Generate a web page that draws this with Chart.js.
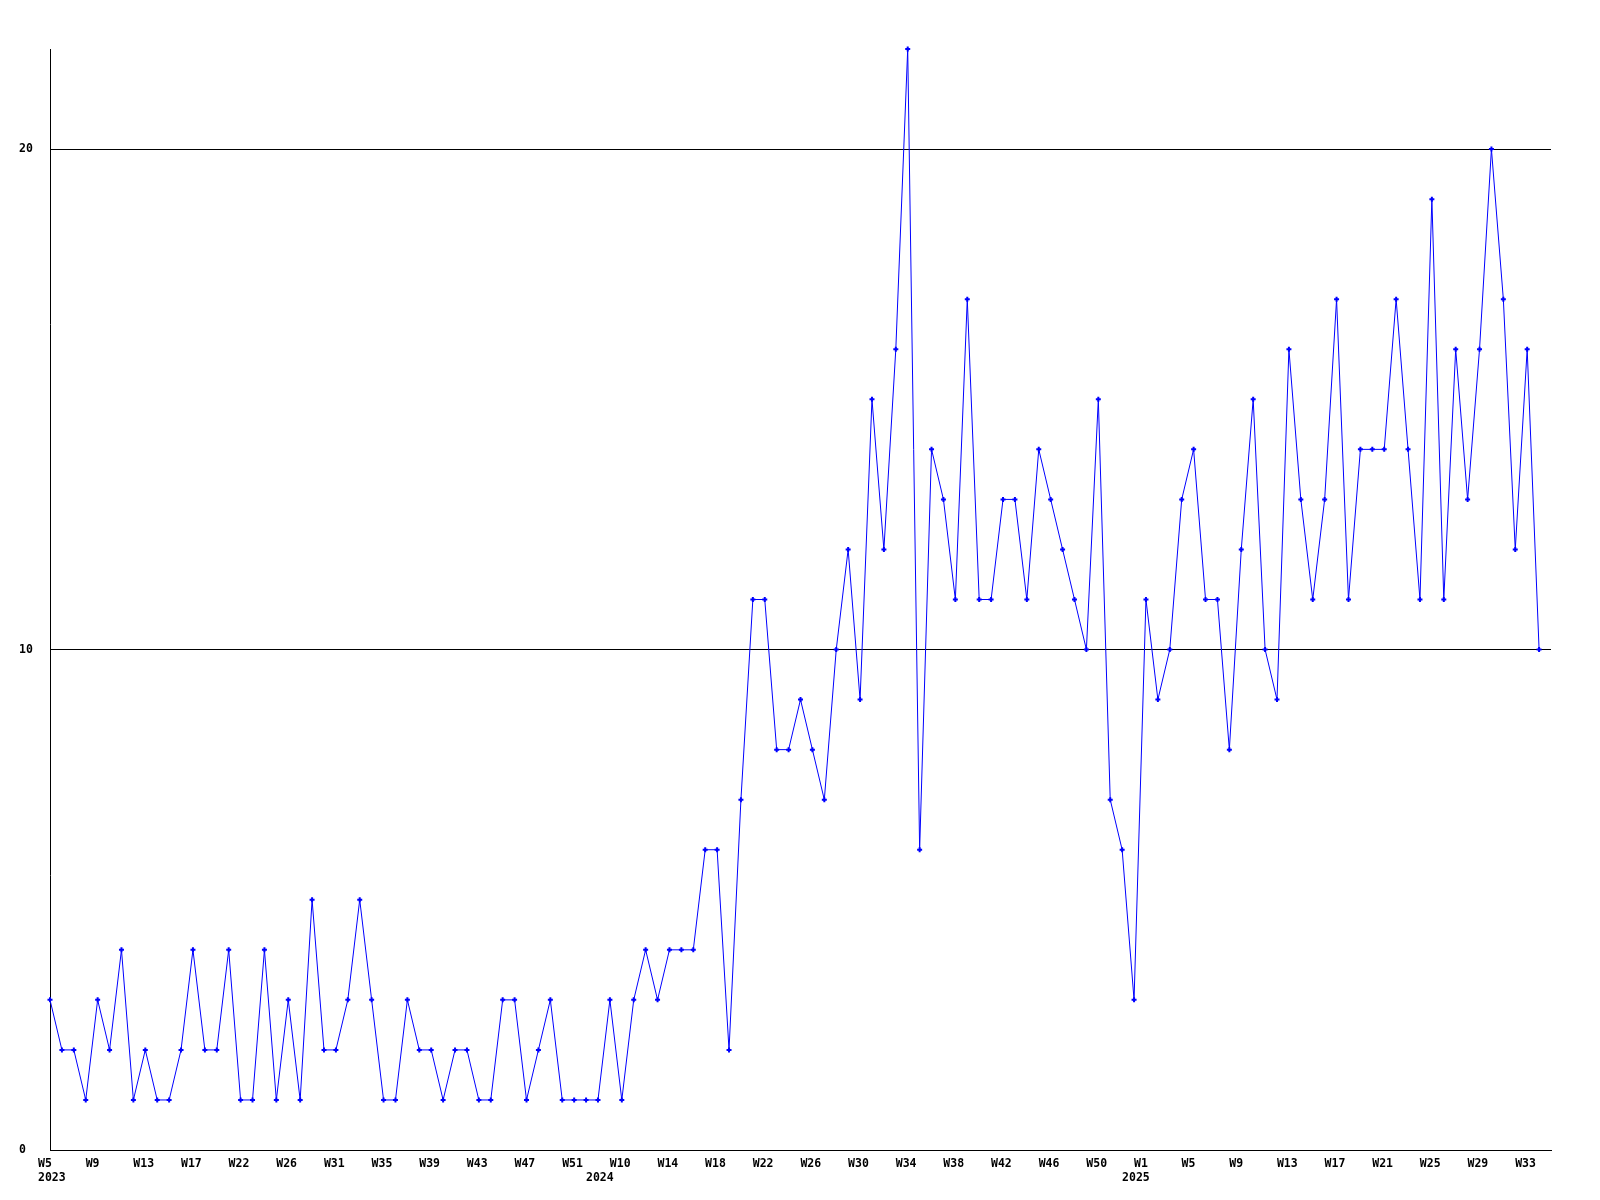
<!DOCTYPE html>
<html>
<head>
<meta charset="utf-8">
<script src="https://cdn.jsdelivr.net/npm/chart.js@4"></script>
<style>
  html, body { margin: 0; padding: 0; background: #fff; }
  #wrap { width: 1600px; height: 1200px; }
</style>
</head>
<body>
<div id="wrap"><canvas id="weeklyChart"></canvas></div>
<script>
// week labels per year (some weeks are missing in the data)
const weeks2023 = ['W5','W6','W7','W8','W9','W10','W11','W12','W13','W14','W15','W16','W17','W18','W19','W21',
    'W22','W23','W24','W25','W26','W27','W28','W30','W31','W32','W33','W34','W35','W36','W37','W38','W39','W40',
    'W41','W42','W43','W44','W45','W46','W47','W48','W49','W50','W51','W52'];
const weeks2024 = ['W1','W6','W10','W11','W12','W13','W14','W15','W16','W17','W18','W19','W20','W21','W22','W23',
    'W24','W25','W26','W27','W28','W29','W30','W31','W32','W33','W34','W35','W36','W37','W38','W39','W40','W41',
    'W42','W43','W44','W45','W46','W47','W48','W49','W50','W51','W52'];
const weeks2025 = ['W0','W1','W2','W3','W4','W5','W6','W7','W8','W9','W10','W11','W12','W13','W14','W15','W16',
    'W17','W18','W19','W20','W21','W22','W23','W24','W25','W26','W27','W28','W29','W30','W31','W32','W33','W34'];
const years = ['2023', '2024', '2025'];

const counts = [
    3, 2, 2, 1, 3, 2, 4, 1, 2, 1, 1, 2, 4, 2, 2, 4, 1, 1, 4, 1, 3, 1, 5, 2,
    2, 3, 5, 3, 1, 1, 3, 2, 2, 1, 2, 2, 1, 1, 3, 3, 1, 2, 3, 1, 1, 1, 1, 3,
    1, 3, 4, 3, 4, 4, 4, 6, 6, 2, 7, 11, 11, 8, 8, 9, 8, 7, 10, 12, 9, 15,
    12, 16, 22, 6, 14, 13, 11, 17, 11, 11, 13, 13, 11, 14, 13, 12, 11, 10, 15, 7,
    6, 3, 11, 9, 10, 13, 14, 11, 11, 8, 12, 15, 10, 9, 16, 13, 11, 13, 17, 11,
    14, 14, 14, 17, 14, 11, 19, 11, 16, 13, 16, 20, 17, 12, 16, 10
];

const labels = weeks2023.concat(weeks2024, weeks2025, ['']);
const yearStarts = {};
yearStarts[0] = years[0];
yearStarts[weeks2023.length] = years[1];
yearStarts[weeks2023.length + weeks2024.length] = years[2];

const tickFont = { family: '"DejaVu Sans Mono", monospace', size: 11.5, weight: 'bold' };

const ctx = document.getElementById('weeklyChart');

new Chart(ctx, {
    type: 'line',
    data: {
        labels: labels,
        datasets: [{
            data: counts,
            borderColor: '#0000ff',
            backgroundColor: '#0000ff',
            borderWidth: 1,
            tension: 0,
            pointStyle: 'cross',
            pointRadius: 2.5,
            pointBorderWidth: 2,
            pointBorderColor: '#0000ff',
            clip: false,
        }]
    },
    options: {
        responsive: true,
        maintainAspectRatio: false,
        animation: false,
        layout: {
            padding: { top: 49, right: 49, left: 19, bottom: 0 }
        },
        plugins: {
            legend: { display: false },
            tooltip: { enabled: false },
        },
        scales: {
            x: {
                offset: false,
                afterFit: (s) => { s.height = 50; },
                grid: { display: false, drawTicks: false },
                border: { display: true, color: '#000', width: 1 },
                ticks: {
                    autoSkip: false,
                    maxRotation: 0,
                    minRotation: 0,
                    align: 'start',
                    labelOffset: -12,
                    padding: 7,
                    color: '#000',
                    font: tickFont,
                    callback: function (value, index) {
                        const wk = index % 4 === 0 ? labels[index] : '';
                        if (yearStarts[index]) return [wk, yearStarts[index]];
                        return wk;
                    }
                }
            },
            y: {
                min: 0,
                max: 22,
                afterFit: (s) => { s.width = 31; },
                afterBuildTicks: (s) => { s.ticks = [0, 10, 20].map(v => ({ value: v })); },
                grid: { color: '#000', lineWidth: 1, drawTicks: false },
                border: { display: true, color: '#000', width: 1 },
                ticks: {
                    crossAlign: 'far',
                    padding: 0,
                    color: '#000',
                    font: tickFont,
                }
            }
        }
    }
});
</script>
</body>
</html>
